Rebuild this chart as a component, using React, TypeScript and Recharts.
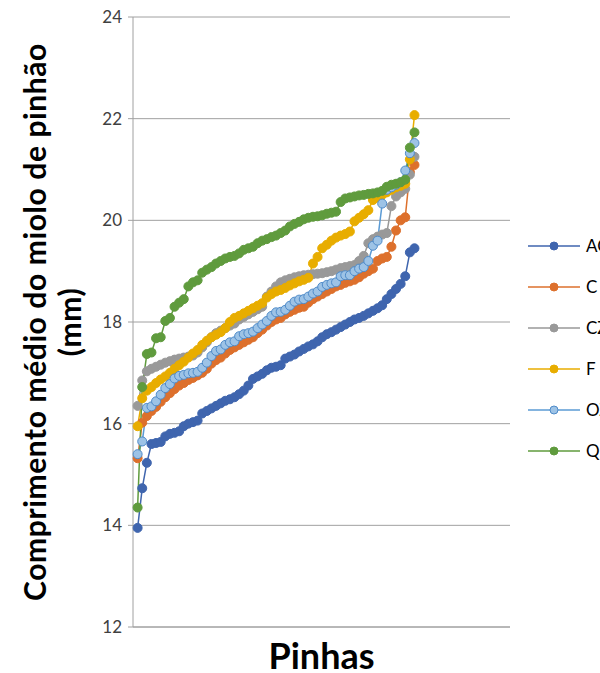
import React from 'react';
import { LineChart, Line, XAxis, YAxis, CartesianGrid, Legend } from 'recharts';

const pinhas = [
  1, 2, 3, 4, 5, 6, 7, 8, 9, 10, 11, 12, 13, 14, 15, 16, 17, 18, 19, 20,
  21, 22, 23, 24, 25, 26, 27, 28, 29, 30, 31, 32, 33, 34, 35, 36, 37, 38, 39, 40,
  41, 42, 43, 44, 45, 46, 47, 48, 49, 50, 51, 52, 53, 54, 55, 56, 57, 58, 59, 60, 61,
];

const serieAC = [
  13.95, 14.73, 15.23, 15.6, 15.62, 15.64, 15.75, 15.8, 15.82, 15.85,
  15.95, 16.0, 16.03, 16.06, 16.2, 16.25, 16.3, 16.35, 16.4, 16.45,
  16.48, 16.52, 16.58, 16.65, 16.75, 16.88, 16.93, 16.98, 17.05, 17.1,
  17.12, 17.15, 17.28, 17.32, 17.36, 17.42, 17.47, 17.52, 17.56, 17.62,
  17.7, 17.76, 17.8, 17.85, 17.9, 17.95, 18.0, 18.05, 18.08, 18.12,
  18.17, 18.22, 18.27, 18.33, 18.45, 18.55, 18.65, 18.75, 18.9, 19.37,
  19.45,
];

const serieC = [
  15.32, 16.02, 16.15, 16.25, 16.33, 16.43, 16.52, 16.6, 16.68, 16.75,
  16.8, 16.86, 16.9, 16.95, 17.0, 17.08, 17.18, 17.25, 17.3, 17.38,
  17.45, 17.5, 17.55, 17.6, 17.65, 17.7, 17.78, 17.85, 17.93, 18.0,
  18.05, 18.08, 18.15, 18.2, 18.24, 18.28, 18.3, 18.38, 18.45, 18.5,
  18.55, 18.6, 18.65, 18.7, 18.73, 18.77, 18.8, 18.83, 18.88, 18.95,
  19.0, 19.05, 19.2, 19.25, 19.28, 19.48, 19.8, 20.0, 20.06, 20.95,
  21.09,
];

const serieCZ = [
  16.35, 16.85, 17.03, 17.08, 17.12, 17.16, 17.2, 17.23, 17.26, 17.28,
  17.3, 17.32, 17.34, 17.4, 17.5, 17.6, 17.7, 17.78, 17.83, 17.88,
  17.93, 17.97, 18.05, 18.1, 18.15, 18.2, 18.25, 18.3, 18.5, 18.6,
  18.7, 18.78, 18.82, 18.85, 18.88, 18.9, 18.92, 18.93, 18.94, 18.95,
  18.96, 18.98, 19.0, 19.03, 19.06, 19.08, 19.1, 19.12, 19.2, 19.3,
  19.55, 19.63, 19.68, 19.72, 19.75, 20.28, 20.47, 20.55, 20.62, 20.9,
  21.25,
];

const serieF = [
  15.95, 16.5, 16.65, 16.72, 16.8, 16.87, 16.93, 17.0, 17.08, 17.15,
  17.22, 17.3, 17.38, 17.45, 17.55, 17.63, 17.7, 17.75, 17.8, 17.88,
  18.0, 18.08, 18.12, 18.17, 18.22, 18.27, 18.32, 18.37, 18.48, 18.55,
  18.6, 18.63, 18.67, 18.72, 18.76, 18.8, 18.83, 18.87, 19.15, 19.28,
  19.45, 19.52, 19.6, 19.66, 19.7, 19.73, 19.78, 19.98, 20.05, 20.12,
  20.2, 20.4, 20.45, 20.5, 20.55, 20.6, 20.65, 20.68, 20.72, 21.2,
  22.07,
];

const serieO = [
  15.4, 15.65, 16.31, 16.34, 16.44, 16.57, 16.7, 16.78, 16.89, 16.94,
  16.96, 16.99, 17.0, 17.02, 17.1, 17.2, 17.33, 17.43, 17.46, 17.55,
  17.6, 17.62, 17.72, 17.76, 17.78, 17.81, 17.88, 17.95, 18.02, 18.12,
  18.19, 18.2, 18.24, 18.32, 18.4, 18.44, 18.45, 18.5, 18.56, 18.6,
  18.69, 18.73, 18.76, 18.78, 18.9, 18.92, 18.92, 19.0, 19.05, 19.08,
  19.2, 19.5, 19.6, 20.33, 20.6, 20.65, 20.7, 20.75, 20.98, 21.32,
  21.52,
];

const serieQ = [
  14.35, 16.72, 17.37, 17.4, 17.68, 17.7, 18.02, 18.08, 18.3, 18.38,
  18.45, 18.7, 18.78, 18.82, 18.97, 19.03, 19.08, 19.15, 19.2, 19.25,
  19.28, 19.3, 19.35, 19.42, 19.45, 19.48, 19.55, 19.6, 19.63, 19.67,
  19.7, 19.75, 19.8, 19.88, 19.93, 19.97, 20.02, 20.05, 20.07, 20.08,
  20.1, 20.13, 20.15, 20.17, 20.36, 20.43, 20.45, 20.47, 20.49, 20.5,
  20.52, 20.53, 20.55, 20.58, 20.66, 20.7, 20.72, 20.75, 20.8, 21.43,
  21.73,
];

const yTicks = [12, 14, 16, 18, 20, 22, 24];
const seriesNames = ['AC', 'C', 'CZ', 'F', 'OZ', 'Q'];
const seriesValues = [serieAC, serieC, serieCZ, serieF, serieO, serieQ];

const STYLES: Record<string, { line: string; fill: string; stroke: string }> = {
  AC: { line: '#3F65AE', fill: '#3F65AE', stroke: '#3F65AE' },
  C: { line: '#DD702C', fill: '#DD702C', stroke: '#DD702C' },
  CZ: { line: '#999999', fill: '#999999', stroke: '#999999' },
  F: { line: '#E8AD00', fill: '#E8AD00', stroke: '#E8AD00' },
  OZ: { line: '#5B9BD5', fill: '#9DC3E6', stroke: '#4F8BC9' },
  Q: { line: '#5F9B3D', fill: '#5F9B3D', stroke: '#5F9B3D' },
};

const data = pinhas.map((p, i) => {
  const row: Record<string, number> = { x: p };
  seriesNames.forEach((n, k) => {
    row[n] = seriesValues[k][i];
  });
  return row;
});

const FONT = 'Lato, "Open Sans", sans-serif';

const YTitle = (props: any) => {
  const vb = props.viewBox || { x: 0, y: 17, width: 133, height: 610 };
  const cy = vb.y + vb.height / 2;
  const x1 = vb.x + 34;
  const x2 = vb.x + 69;
  return (
    <g>
      <text x={x1} y={cy} transform={`rotate(-90, ${x1}, ${cy})`} textAnchor="middle" dominantBaseline="central"
        fontFamily={FONT} fontWeight={700} fontSize={30} letterSpacing={0.6} fill="#000">
        Comprimento médio do miolo de pinhão
      </text>
      <text x={x2} y={cy} transform={`rotate(-90, ${x2}, ${cy})`} textAnchor="middle" dominantBaseline="central"
        fontFamily={FONT} fontWeight={700} fontSize={30} letterSpacing={0.6} fill="#000">
        (mm)
      </text>
    </g>
  );
};

const XTitle = (props: any) => {
  const vb = props.viewBox || { x: 133, y: 627, width: 377, height: 46 };
  return (
    <text x={vb.x + vb.width / 2} y={vb.y + 28} textAnchor="middle" dominantBaseline="central"
      fontFamily={FONT} fontWeight={700} fontSize={36} fill="#000">
      Pinhas
    </text>
  );
};

const LegendContent = (props: any) => {
  const payload = props.payload || [];
  return (
    <div style={{ fontFamily: FONT, fontSize: 17, color: '#000' }}>
      {payload.map((entry: any) => {
        const name = String(entry.value);
        const st = STYLES[name];
        return (
          <div key={name} style={{ height: 41, display: 'flex', alignItems: 'center', whiteSpace: 'nowrap' }}>
            <svg width={52} height={12} style={{ marginRight: 6, flex: 'none' }}>
              <line x1={0} y1={6} x2={52} y2={6} stroke={st.line} strokeWidth={1.5} />
              <circle cx={26} cy={6} r={4} fill={st.fill} stroke={st.stroke} strokeWidth={1} />
            </svg>
            <span>{name}</span>
          </div>
        );
      })}
    </div>
  );
};

export default function App() {
  return (
    <div style={{ position: 'absolute', left: 0, top: 0, width: 600, height: 673, overflow: 'hidden', background: '#fff' }}>
      <LineChart width={600} height={673} data={data} margin={{ top: 17, right: 90, bottom: 0, left: 0 }}>
        <CartesianGrid vertical={false} stroke="#A0A0A0" strokeWidth={1} />
        <XAxis dataKey="x" type="number" domain={[0, 81.7]} tick={false} tickLine={false}
          axisLine={{ stroke: '#A0A0A0' }} height={46} label={{ content: XTitle }} />
        <YAxis type="number" domain={[12, 24]} ticks={yTicks} width={133} interval={0}
          axisLine={{ stroke: '#A0A0A0' }} tickLine={{ stroke: '#A0A0A0' }} tickSize={5} tickMargin={6}
          tick={{ fill: '#404040', fontSize: 17, fontFamily: FONT }} label={{ content: YTitle }} />
        <Legend layout="vertical" align="center" verticalAlign="middle" content={LegendContent}
          wrapperStyle={{ left: 528, top: 225, width: 100, height: 250 }} />
        {seriesNames.map((n) => (
          <Line key={n} type="linear" dataKey={n} name={n} stroke={STYLES[n].line} strokeWidth={1.5}
            dot={{ r: 4.5, fill: STYLES[n].fill, stroke: STYLES[n].stroke, strokeWidth: 1 }}
            activeDot={false} isAnimationActive={false} />
        ))}
      </LineChart>
    </div>
  );
}
